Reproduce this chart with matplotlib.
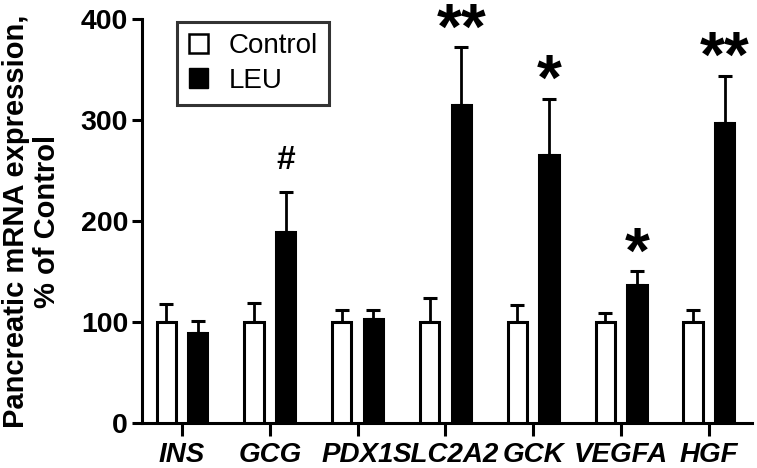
import matplotlib
matplotlib.use("Agg")
import matplotlib.pyplot as plt
import numpy as np
from matplotlib.patches import Patch

genes = ["INS", "GCG", "PDX1", "SLC2A2", "GCK", "VEGFA", "HGF"]
control_mean = [100, 100, 100, 100, 100, 100, 100]
control_err = [18, 19, 12, 24, 17, 9, 12]
leu_mean = [89, 189, 103, 315, 265, 137, 297]
leu_err = [12, 40, 9, 57, 56, 13, 47]
marks = ["", "#", "", "**", "*", "*", "**"]

plt.rcParams['font.family'] = ['Liberation Sans', 'DejaVu Sans']

fig = plt.figure(figsize=(7.57, 4.68), dpi=100)
ax = fig.add_axes([0.1876, 0.0962, 0.8058, 0.8632])

x = np.arange(len(genes))
off = 0.18
w = 0.22
lw = 2.2

ax.bar(x - off, control_mean, width=w, color="white", edgecolor="black",
       linewidth=lw, zorder=3, label="Control")
ax.bar(x + off, leu_mean, width=w, color="black", edgecolor="black",
       linewidth=lw, zorder=3, label="LEU")
ax.errorbar(x - off, control_mean, yerr=[np.zeros(len(x)), control_err],
            fmt="none", ecolor="black", elinewidth=2, capsize=5, capthick=2.2, zorder=2)
ax.errorbar(x + off, leu_mean, yerr=[np.zeros(len(x)), leu_err],
            fmt="none", ecolor="black", elinewidth=2, capsize=5, capthick=2.2, zorder=2)

for i, m in enumerate(marks):
    if not m:
        continue
    top = leu_mean[i] + leu_err[i]
    if m == "#":
        ax.text(x[i] + off, top + 16, m, ha="center", va="bottom",
                fontsize=24, fontweight="bold", clip_on=False)
    else:
        ax.text(x[i] + off, top - 14, m, ha="center", va="bottom",
                fontsize=46, fontweight="bold", clip_on=False)

ax.set_xlim(-0.455, 6.49)
ax.set_ylim(0, 400)
ax.set_yticks([0, 100, 200, 300, 400])
ax.set_xticks(x)
ax.set_xticklabels(genes, fontsize=20, fontweight="bold", fontstyle="italic")
ax.tick_params(axis="y", labelsize=20.5, width=lw, length=7, pad=3)
ax.tick_params(axis="x", width=lw, length=9, pad=5)
for lab in ax.get_yticklabels():
    lab.set_fontweight("bold")
for s in ["top", "right"]:
    ax.spines[s].set_visible(False)
for s in ["left", "bottom"]:
    ax.spines[s].set_linewidth(lw)

ax.set_ylabel("Pancreatic mRNA expression,\n% of Control", fontsize=21,
              fontweight="bold", linespacing=1.15, labelpad=14)

handles = [Patch(facecolor="white", edgecolor="black", linewidth=1.8, label="Control"),
           Patch(facecolor="black", edgecolor="black", label="LEU")]
leg = ax.legend(handles=handles, loc="upper left", bbox_to_anchor=(0.058, 0.992),
                fontsize=20, frameon=True, fancybox=False, edgecolor="black",
                handlelength=0.7, handleheight=0.7, handletextpad=0.75,
                borderpad=0.4, labelspacing=0.3, borderaxespad=0)
leg.get_frame().set_linewidth(2.2)

fig.savefig("out.png", dpi=100)
